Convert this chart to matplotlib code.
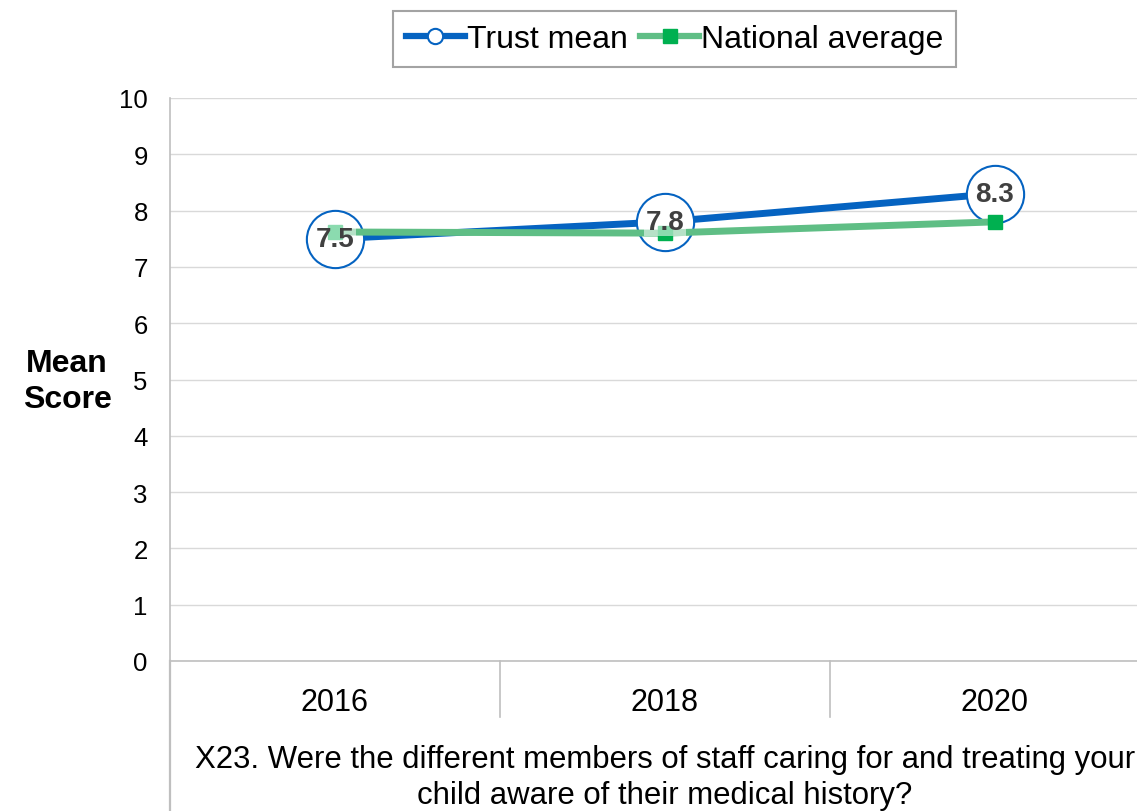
import matplotlib.pyplot as plt
from matplotlib.lines import Line2D

plt.rcParams['font.family'] = ['Liberation Sans', 'DejaVu Sans']

years = ['2016', '2018', '2020']
trust_mean = [7.5, 7.8, 8.3]
national_avg = [7.62, 7.6, 7.8]
question = ('X23. Were the different members of staff caring for and treating your\n'
            'child aware of their medical history?')

blue = '#0563C1'
green_line = '#5FBE85'
green_mark = '#00B050'
grey = '#BFBFBF'

W, H = 1137, 812
fig = plt.figure(figsize=(W / 100, H / 100), dpi=100)
# axes runs past the right edge like in the original
ax = fig.add_axes([170 / W, (H - 662) / H, 989.5 / W, (662 - 99) / H])

x = list(range(len(years)))
ax.plot(x, trust_mean, color=blue, lw=5, marker='o', ms=10, mfc='white',
        mec=blue, zorder=3)
# label circles
ax.scatter(x, trust_mean, s=1700, facecolor='white', edgecolor=blue,
           linewidths=1.5, zorder=4)
ax.plot(x, national_avg, color=green_line, lw=5, zorder=5)
ax.plot(x, national_avg, ls='none', marker='s', ms=10, color=green_mark, zorder=5)
for xi, v in zip(x, trust_mean):
    ax.text(xi, v, f'{v:.1f}', ha='center', va='center', fontsize=20,
            fontweight='bold', color='#404040', zorder=6,
            bbox=dict(boxstyle='square,pad=0.05', fc='white', ec='none', alpha=0.55))

ax.set_xlim(-0.5, 2.5)
ax.set_ylim(0, 10)
ax.set_yticks(range(0, 11))
ax.set_xticks(x)
ax.set_xticklabels(years, fontsize=22)
ax.tick_params(axis='x', length=0, pad=19)
ax.tick_params(axis='y', length=0, pad=16, labelsize=18.5)
ax.grid(axis='y', color='#D9D9D9', lw=1)
ax.set_axisbelow(True)
for s in ['top', 'right']:
    ax.spines[s].set_visible(False)
ax.spines['bottom'].set_color(grey)
ax.spines['left'].set_color(grey)
ax.spines['bottom'].set_linewidth(1.2)
ax.spines['left'].set_linewidth(1.2)

# category boundary ticks and the extended left axis line
h_ax = 662 - 99
for b in [0.5, 1.5]:
    ax.add_line(Line2D([b, b], [0, -(718 - 662) / h_ax * 10], color=grey, lw=1.2,
                       clip_on=False))
ax.add_line(Line2D([-0.5, -0.5], [0, -(812 - 662) / h_ax * 10], color=grey, lw=1.6,
                   clip_on=False))

ax.text(0.5, -(778 - 662) / h_ax, question, transform=ax.transAxes, ha='center',
        va='center', fontsize=22.4, linespacing=1.3, clip_on=False)

fig.text(67 / W, 1 - 382 / H, 'Mean\nScore', ha='center', va='center', fontsize=23,
         fontweight='bold', linespacing=1.3)

handles = [
    Line2D([], [], color=blue, lw=4.5, marker='o', ms=11, mfc='white', mec=blue, mew=1.5),
    Line2D([], [], color=green_line, lw=4.5, marker='s', ms=10, mfc=green_mark,
           mec=green_mark),
]
leg = fig.legend(handles, ['Trust mean', 'National average'], loc='center',
                 bbox_to_anchor=(674.5 / W, 1 - 40 / H), ncol=2, fontsize=23,
                 frameon=True, fancybox=False, edgecolor='#8C8C8C',
                 handlelength=1.85, handletextpad=0.05, columnspacing=0.4,
                 borderpad=0.4, borderaxespad=0)
leg.get_frame().set_linewidth(1.5)

fig.savefig('out.png', dpi=100)
